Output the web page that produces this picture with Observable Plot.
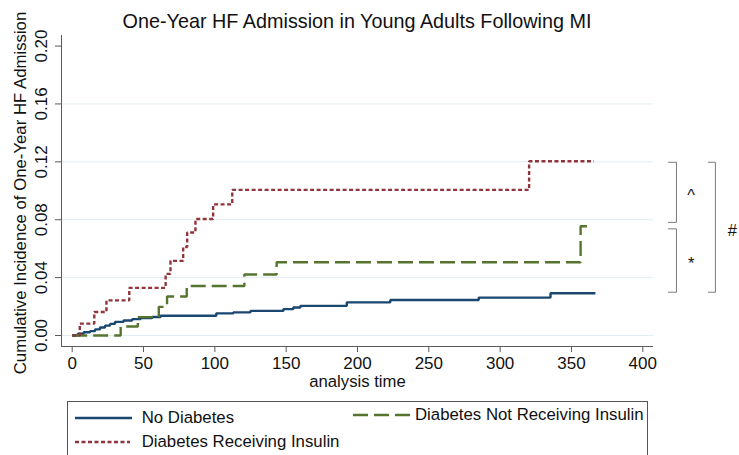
<!DOCTYPE html>
<html><head><meta charset="utf-8">
<script src="https://cdn.jsdelivr.net/npm/d3@7"></script>
<script src="https://cdn.jsdelivr.net/npm/@observablehq/plot@0.6"></script>
<style>
body{margin:0;background:#fff;font-family:"Liberation Sans",Arial,Helvetica,sans-serif;}
#wrap{position:relative;width:739px;height:455px;overflow:hidden;background:#fff;}
#title{position:absolute;left:0;top:11.5px;width:714px;text-align:center;font-size:19.8px;line-height:1;color:#111;white-space:nowrap;}
#chart{position:absolute;left:0;top:30px;}
#legend{position:absolute;left:67px;top:401px;width:581px;height:70px;border:1px solid #555;box-sizing:border-box;}
.lg{position:absolute;font-size:16.8px;line-height:1;color:#111;white-space:nowrap;}
.sw{position:absolute;overflow:visible;}
</style></head><body>
<div id="wrap"><div id="title"></div><div id="chart"></div><div id="legend"></div></div>
<script>
const titleText = "One-Year HF Admission in Young Adults Following MI";
const xLabel = "analysis time";
const yLabel = "Cumulative Incidence of One-Year HF Admission";
const xTicks = [0, 50, 100, 150, 200, 250, 300, 350, 400];
const yTicks = [0, 0.04, 0.08, 0.12, 0.16, 0.20];
const gridTicks = [0, 0.04, 0.08, 0.12, 0.16];
const seriesNames = ["No Diabetes", "Diabetes Not Receiving Insulin", "Diabetes Receiving Insulin"];

// No Diabetes
const noDiabT = [0, 4, 8, 12.5, 16, 19.5, 23, 26.5, 30, 36, 42, 48, 56, 62, 101, 113, 125, 148, 155, 160, 192.5, 223, 285, 335.3, 366.8];
const noDiabV = [0, 0.0012, 0.0022, 0.003, 0.0042, 0.0055, 0.0068, 0.008, 0.0094, 0.0104, 0.0113, 0.012, 0.0128, 0.0136, 0.0153, 0.016, 0.017, 0.0182, 0.0194, 0.0205, 0.0229, 0.0245, 0.0262, 0.0292, 0.0292];
// Diabetes Not Receiving Insulin
const dmNoInsT = [0, 34, 46, 60.7, 66.5, 80.3, 120.7, 143.3, 356.4, 364.5];
const dmNoInsV = [0, 0.0062, 0.0127, 0.0198, 0.027, 0.0342, 0.0422, 0.0506, 0.0755, 0.0755];
// Diabetes Receiving Insulin
const dmInsT = [0, 5.3, 15.5, 24, 40, 65.5, 68.9, 77.8, 80.6, 86.4, 98.8, 112.2, 320.3, 365.7];
const dmInsV = [0, 0.0082, 0.0162, 0.0243, 0.0329, 0.0426, 0.0516, 0.0612, 0.0712, 0.0805, 0.0906, 0.1006, 0.1204, 0.1204];

// significance brackets
const bracketTop = [0.1197, 0.0737, 0.1197];
const bracketBottom = [0.0782, 0.0299, 0.0299];
const bracketLabels = ["^", "*", "#"];

const colors = ["#1a476f", "#55752f", "#90353b"];
const dashes = [null, "15,6", "4,2.5"];

document.getElementById("title").textContent = titleText;

const toRows = (T, V, s) => T.map((t, i) => ({t, v: V[i], s}));
const rows = [
  toRows(noDiabT, noDiabV, seriesNames[0]),
  toRows(dmNoInsT, dmNoInsV, seriesNames[1]),
  toRows(dmInsT, dmInsV, seriesNames[2])
];

// bracket layout (x in data units, beyond the plotted domain)
const bx = [[418, 423.6], [418, 423.6], [446, 450.9]];
const labelX = [433.9, 433.9, 462.7];
const bracketPts = [];
bracketTop.forEach((top, i) => {
  const [a, b] = bx[i];
  const bot = bracketBottom[i];
  [[a, top], [b, top], [b, bot], [a, bot]].forEach(([x, y]) => bracketPts.push({x, y, k: i}));
});

const X0 = -7.5, X1 = 407.5, Y0 = -0.0076, Y1 = 0.2073;
const font = '"Liberation Sans", Arial, Helvetica, sans-serif';
const axisColor = "#5a5a5a";

const chart = Plot.plot({
  width: 739, height: 370,
  marginLeft: 61, marginRight: 86, marginTop: 5, marginBottom: 54,
  x: {domain: [X0, X1]},
  y: {domain: [Y0, Y1]},
  style: {fontFamily: font, color: "#111", background: "transparent", overflow: "visible"},
  marks: [
    Plot.gridY({ticks: gridTicks, stroke: "#e3ecf0", strokeOpacity: 1, strokeWidth: 1}),
    Plot.ruleX([X0], {stroke: axisColor, strokeWidth: 1}),
    Plot.ruleY([Y0], {stroke: axisColor, strokeWidth: 1}),
    Plot.axisX({ticks: xTicks, tickSize: 6, tickPadding: 4.7, fontSize: 17, label: null, stroke: axisColor, fill: "#111"}),
    Plot.axisY({ticks: yTicks, tickSize: 6, tickFormat: () => "", label: null, stroke: axisColor}),
    Plot.text(yTicks, {y: d => d, frameAnchor: "left", dx: -14.3, rotate: -90, text: d => d3.format(".2f")(d),
      textAnchor: "middle", lineAnchor: "bottom", fontSize: 17, fill: "#111"}),
    Plot.text([yLabel], {frameAnchor: "left", dx: -36, dy: 2, rotate: -90, textAnchor: "middle", lineAnchor: "bottom", fontSize: 16.75, fill: "#111"}),
    Plot.text([xLabel], {frameAnchor: "bottom", dy: 40, lineAnchor: "bottom", fontSize: 16.7, fill: "#111"}),
    ...rows.map((r, i) => Plot.line(r, {x: "t", y: "v", curve: "step-after", stroke: colors[i], strokeWidth: 2.4,
      strokeDasharray: dashes[i] || undefined, strokeLinecap: "butt", strokeLinejoin: "miter"})),
    Plot.line(bracketPts, {x: "x", y: "y", z: "k", stroke: "#7a7a7a", strokeWidth: 1, curve: "linear"}),
    Plot.text(bracketLabels, {x: (d, i) => labelX[i], y: (d, i) => (bracketTop[i] + bracketBottom[i]) / 2,
      dy: 3, text: d => d, fontSize: 16.5, fill: "#111"})
  ]
});
document.getElementById("chart").appendChild(chart);

// legend
const legend = document.getElementById("legend");
const entries = [
  {i: 0, sx: 75, sy: 417.7, w: 57, tx: 141.7, ty: 410.1},
  {i: 2, sx: 75, sy: 441.7, w: 55, tx: 141.7, ty: 433.5},
  {i: 1, sx: 353, sy: 415, w: 57, tx: 415, ty: 406.8}
];
const ox = 68, oy = 402;
entries.forEach(e => {
  const svg = d3.create("svg").attr("class", "sw").attr("width", e.w).attr("height", 6)
    .style("left", (e.sx - ox) + "px").style("top", (e.sy - 3 - oy) + "px");
  svg.append("line").attr("x1", 0).attr("x2", e.w).attr("y1", 3).attr("y2", 3)
    .attr("stroke", colors[e.i]).attr("stroke-width", 2.4)
    .attr("stroke-dasharray", dashes[e.i]).attr("stroke-linecap", "butt");
  legend.appendChild(svg.node());
  const t = document.createElement("div");
  t.className = "lg";
  t.textContent = seriesNames[e.i];
  t.style.left = (e.tx - ox) + "px";
  t.style.top = (e.ty - oy) + "px";
  legend.appendChild(t);
});
</script>
</body></html>
